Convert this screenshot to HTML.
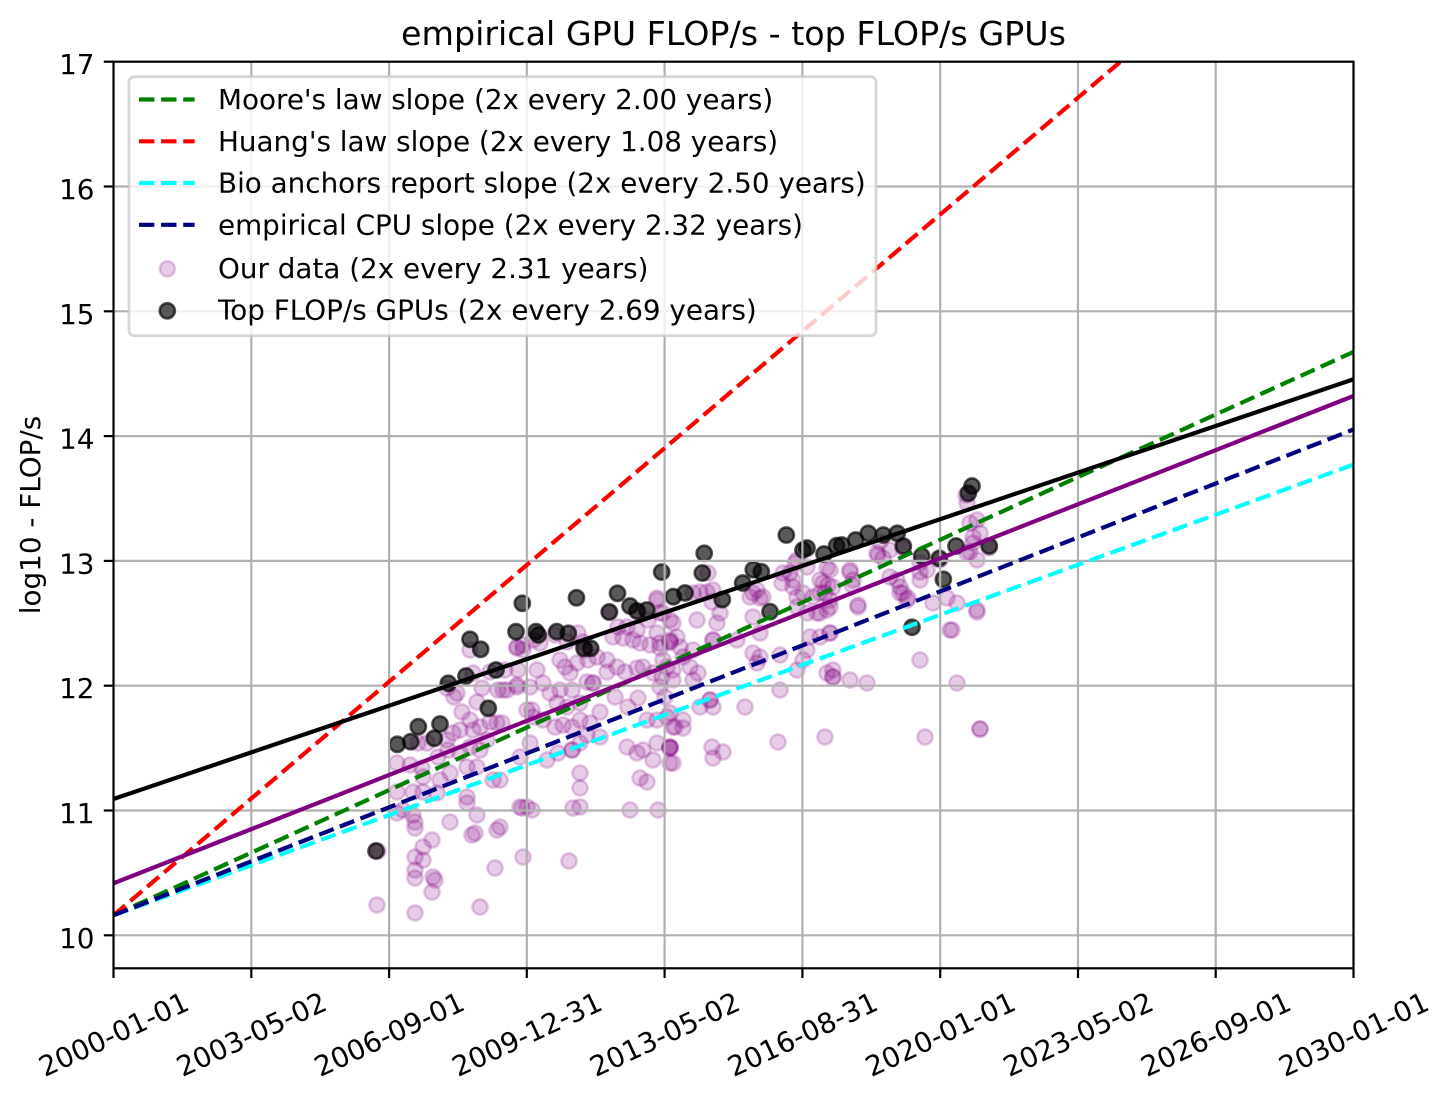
<!DOCTYPE html>
<html><head><meta charset="utf-8"><style>
html,body{margin:0;padding:0;background:#fff;}
svg{display:block;font-family:"DejaVu Sans","Liberation Sans",sans-serif;}
</style></head><body>
<svg width="1452" height="1101" viewBox="0 0 1452 1101" xmlns="http://www.w3.org/2000/svg">
<rect x="0" y="0" width="1452" height="1101" fill="#fff"/>
<defs><clipPath id="c"><rect x="113.5" y="61.7" width="1240" height="906.6"/></clipPath></defs>
<g clip-path="url(#c)">
<!-- purple scatter -->
<g fill="#800080" fill-opacity="0.2" stroke="#800080" stroke-opacity="0.2" stroke-width="2.6">
<circle cx="657" cy="598" r="7.6"/><circle cx="663" cy="613" r="7.6"/><circle cx="648" cy="620" r="7.6"/><circle cx="637" cy="630" r="7.6"/><circle cx="657" cy="633" r="7.6"/><circle cx="673" cy="623" r="7.6"/><circle cx="627" cy="627" r="7.6"/><circle cx="618" cy="627" r="7.6"/><circle cx="613" cy="637" r="7.6"/><circle cx="623" cy="638" r="7.6"/><circle cx="633" cy="640" r="7.6"/><circle cx="640" cy="643" r="7.6"/><circle cx="650" cy="645" r="7.6"/><circle cx="660" cy="648" r="7.6"/><circle cx="670" cy="642" r="7.6"/><circle cx="670" cy="642" r="7.6"/><circle cx="677" cy="637" r="7.6"/><circle cx="578" cy="633" r="7.6"/><circle cx="567" cy="642" r="7.6"/><circle cx="583" cy="642" r="7.6"/><circle cx="540" cy="643" r="7.6"/><circle cx="533" cy="640" r="7.6"/><circle cx="517" cy="647" r="7.6"/><circle cx="523" cy="650" r="7.6"/><circle cx="537" cy="670" r="7.6"/><circle cx="560" cy="660" r="7.6"/><circle cx="565" cy="667" r="7.6"/><circle cx="570" cy="673" r="7.6"/><circle cx="577" cy="663" r="7.6"/><circle cx="588" cy="660" r="7.6"/><circle cx="597" cy="657" r="7.6"/><circle cx="607" cy="660" r="7.6"/><circle cx="617" cy="667" r="7.6"/><circle cx="625" cy="672" r="7.6"/><circle cx="637" cy="668" r="7.6"/><circle cx="643" cy="667" r="7.6"/><circle cx="653" cy="673" r="7.6"/><circle cx="662" cy="677" r="7.6"/><circle cx="667" cy="667" r="7.6"/><circle cx="673" cy="670" r="7.6"/><circle cx="505" cy="670" r="7.6"/><circle cx="517" cy="687" r="7.6"/><circle cx="503" cy="690" r="7.6"/><circle cx="530" cy="687" r="7.6"/><circle cx="543" cy="683" r="7.6"/><circle cx="550" cy="693" r="7.6"/><circle cx="560" cy="690" r="7.6"/><circle cx="572" cy="690" r="7.6"/><circle cx="587" cy="682" r="7.6"/><circle cx="593" cy="683" r="7.6"/><circle cx="593" cy="683" r="7.6"/><circle cx="607" cy="672" r="7.6"/><circle cx="580" cy="703" r="7.6"/><circle cx="557" cy="703" r="7.6"/><circle cx="567" cy="707" r="7.6"/><circle cx="532" cy="710" r="7.6"/><circle cx="533" cy="717" r="7.6"/><circle cx="543" cy="720" r="7.6"/><circle cx="555" cy="727" r="7.6"/><circle cx="563" cy="725" r="7.6"/><circle cx="572" cy="727" r="7.6"/><circle cx="580" cy="720" r="7.6"/><circle cx="590" cy="723" r="7.6"/><circle cx="600" cy="712" r="7.6"/><circle cx="615" cy="697" r="7.6"/><circle cx="628" cy="707" r="7.6"/><circle cx="638" cy="698" r="7.6"/><circle cx="647" cy="720" r="7.6"/><circle cx="657" cy="720" r="7.6"/><circle cx="667" cy="717" r="7.6"/><circle cx="673" cy="727" r="7.6"/><circle cx="502" cy="723" r="7.6"/><circle cx="530" cy="743" r="7.6"/><circle cx="547" cy="760" r="7.6"/><circle cx="558" cy="753" r="7.6"/><circle cx="572" cy="750" r="7.6"/><circle cx="572" cy="750" r="7.6"/><circle cx="580" cy="743" r="7.6"/><circle cx="587" cy="735" r="7.6"/><circle cx="600" cy="737" r="7.6"/><circle cx="627" cy="747" r="7.6"/><circle cx="637" cy="753" r="7.6"/><circle cx="643" cy="750" r="7.6"/><circle cx="657" cy="743" r="7.6"/><circle cx="670" cy="748" r="7.6"/><circle cx="670" cy="748" r="7.6"/><circle cx="673" cy="763" r="7.6"/><circle cx="653" cy="760" r="7.6"/><circle cx="580" cy="773" r="7.6"/><circle cx="580" cy="788" r="7.6"/><circle cx="640" cy="778" r="7.6"/><circle cx="647" cy="782" r="7.6"/><circle cx="522" cy="808" r="7.6"/><circle cx="532" cy="810" r="7.6"/><circle cx="573" cy="808" r="7.6"/><circle cx="580" cy="807" r="7.6"/><circle cx="630" cy="810" r="7.6"/><circle cx="658" cy="810" r="7.6"/><circle cx="500" cy="827" r="7.6"/><circle cx="569" cy="861" r="7.6"/>
<circle cx="517" cy="648" r="7.6"/><circle cx="523" cy="645" r="7.6"/><circle cx="518" cy="670" r="7.6"/><circle cx="482" cy="688" r="7.6"/><circle cx="498" cy="690" r="7.6"/><circle cx="507" cy="690" r="7.6"/><circle cx="517" cy="685" r="7.6"/><circle cx="473" cy="673" r="7.6"/><circle cx="457" cy="693" r="7.6"/><circle cx="454" cy="697" r="7.6"/><circle cx="477" cy="702" r="7.6"/><circle cx="462" cy="712" r="7.6"/><circle cx="470" cy="720" r="7.6"/><circle cx="480" cy="727" r="7.6"/><circle cx="490" cy="722" r="7.6"/><circle cx="497" cy="723" r="7.6"/><circle cx="453" cy="733" r="7.6"/><circle cx="460" cy="730" r="7.6"/><circle cx="473" cy="730" r="7.6"/><circle cx="447" cy="740" r="7.6"/><circle cx="427" cy="743" r="7.6"/><circle cx="418" cy="743" r="7.6"/><circle cx="487" cy="740" r="7.6"/><circle cx="527" cy="710" r="7.6"/><circle cx="397" cy="763" r="7.6"/><circle cx="410" cy="765" r="7.6"/><circle cx="438" cy="757" r="7.6"/><circle cx="448" cy="750" r="7.6"/><circle cx="460" cy="753" r="7.6"/><circle cx="470" cy="747" r="7.6"/><circle cx="480" cy="750" r="7.6"/><circle cx="467" cy="767" r="7.6"/><circle cx="477" cy="767" r="7.6"/><circle cx="450" cy="773" r="7.6"/><circle cx="440" cy="780" r="7.6"/><circle cx="423" cy="777" r="7.6"/><circle cx="422" cy="768" r="7.6"/><circle cx="493" cy="780" r="7.6"/><circle cx="500" cy="780" r="7.6"/><circle cx="520" cy="757" r="7.6"/><circle cx="397" cy="792" r="7.6"/><circle cx="413" cy="792" r="7.6"/><circle cx="423" cy="792" r="7.6"/><circle cx="437" cy="793" r="7.6"/><circle cx="467" cy="797" r="7.6"/><circle cx="467" cy="803" r="7.6"/><circle cx="520" cy="807" r="7.6"/><circle cx="527" cy="807" r="7.6"/><circle cx="397" cy="813" r="7.6"/><circle cx="403" cy="810" r="7.6"/><circle cx="413" cy="815" r="7.6"/><circle cx="415" cy="822" r="7.6"/><circle cx="415" cy="828" r="7.6"/><circle cx="450" cy="822" r="7.6"/><circle cx="477" cy="815" r="7.6"/><circle cx="472" cy="835" r="7.6"/><circle cx="475" cy="833" r="7.6"/><circle cx="497" cy="830" r="7.6"/><circle cx="423" cy="847" r="7.6"/><circle cx="432" cy="840" r="7.6"/><circle cx="415" cy="857" r="7.6"/><circle cx="423" cy="860" r="7.6"/><circle cx="415" cy="870" r="7.6"/><circle cx="415" cy="878" r="7.6"/><circle cx="433" cy="877" r="7.6"/><circle cx="435" cy="880" r="7.6"/><circle cx="432" cy="892" r="7.6"/><circle cx="495" cy="868" r="7.6"/><circle cx="523" cy="857" r="7.6"/><circle cx="377" cy="905" r="7.6"/><circle cx="415" cy="913" r="7.6"/><circle cx="480" cy="907" r="7.6"/><circle cx="378" cy="851" r="7.6"/>
<circle cx="660" cy="613" r="7.6"/><circle cx="670" cy="620" r="7.6"/><circle cx="697" cy="620" r="7.6"/><circle cx="717" cy="623" r="7.6"/><circle cx="720" cy="613" r="7.6"/><circle cx="712" cy="602" r="7.6"/><circle cx="707" cy="592" r="7.6"/><circle cx="693" cy="593" r="7.6"/><circle cx="737" cy="640" r="7.6"/><circle cx="760" cy="633" r="7.6"/><circle cx="753" cy="617" r="7.6"/><circle cx="750" cy="597" r="7.6"/><circle cx="757" cy="590" r="7.6"/><circle cx="760" cy="598" r="7.6"/><circle cx="670" cy="640" r="7.6"/><circle cx="713" cy="640" r="7.6"/><circle cx="713" cy="640" r="7.6"/><circle cx="660" cy="643" r="7.6"/><circle cx="680" cy="647" r="7.6"/><circle cx="693" cy="650" r="7.6"/><circle cx="683" cy="657" r="7.6"/><circle cx="663" cy="660" r="7.6"/><circle cx="690" cy="667" r="7.6"/><circle cx="698" cy="673" r="7.6"/><circle cx="693" cy="680" r="7.6"/><circle cx="673" cy="680" r="7.6"/><circle cx="660" cy="687" r="7.6"/><circle cx="665" cy="697" r="7.6"/><circle cx="710" cy="700" r="7.6"/><circle cx="710" cy="700" r="7.6"/><circle cx="713" cy="707" r="7.6"/><circle cx="700" cy="707" r="7.6"/><circle cx="745" cy="707" r="7.6"/><circle cx="670" cy="713" r="7.6"/><circle cx="683" cy="720" r="7.6"/><circle cx="675" cy="727" r="7.6"/><circle cx="683" cy="728" r="7.6"/><circle cx="670" cy="747" r="7.6"/><circle cx="670" cy="747" r="7.6"/><circle cx="670" cy="763" r="7.6"/><circle cx="712" cy="747" r="7.6"/><circle cx="713" cy="758" r="7.6"/><circle cx="723" cy="752" r="7.6"/><circle cx="778" cy="742" r="7.6"/><circle cx="825" cy="737" r="7.6"/><circle cx="925" cy="737" r="7.6"/><circle cx="980" cy="729" r="7.6"/><circle cx="980" cy="729" r="7.6"/><circle cx="753" cy="653" r="7.6"/><circle cx="760" cy="657" r="7.6"/><circle cx="757" cy="663" r="7.6"/><circle cx="780" cy="655" r="7.6"/><circle cx="780" cy="690" r="7.6"/><circle cx="797" cy="670" r="7.6"/><circle cx="807" cy="650" r="7.6"/><circle cx="803" cy="660" r="7.6"/><circle cx="810" cy="637" r="7.6"/><circle cx="820" cy="637" r="7.6"/><circle cx="830" cy="633" r="7.6"/><circle cx="827" cy="673" r="7.6"/><circle cx="833" cy="677" r="7.6"/><circle cx="833" cy="677" r="7.6"/><circle cx="850" cy="680" r="7.6"/><circle cx="867" cy="683" r="7.6"/><circle cx="858" cy="607" r="7.6"/><circle cx="827" cy="610" r="7.6"/><circle cx="817" cy="613" r="7.6"/><circle cx="807" cy="613" r="7.6"/><circle cx="797" cy="607" r="7.6"/><circle cx="813" cy="597" r="7.6"/><circle cx="803" cy="593" r="7.6"/><circle cx="820" cy="593" r="7.6"/><circle cx="830" cy="600" r="7.6"/><circle cx="793" cy="580" r="7.6"/><circle cx="783" cy="573" r="7.6"/><circle cx="797" cy="560" r="7.6"/><circle cx="807" cy="567" r="7.6"/><circle cx="827" cy="568" r="7.6"/><circle cx="850" cy="570" r="7.6"/><circle cx="853" cy="580" r="7.6"/><circle cx="823" cy="583" r="7.6"/><circle cx="833" cy="587" r="7.6"/><circle cx="920" cy="660" r="7.6"/><circle cx="957" cy="683" r="7.6"/><circle cx="950" cy="630" r="7.6"/><circle cx="977" cy="612" r="7.6"/><circle cx="957" cy="603" r="7.6"/><circle cx="890" cy="577" r="7.6"/><circle cx="900" cy="593" r="7.6"/><circle cx="907" cy="600" r="7.6"/><circle cx="877" cy="553" r="7.6"/><circle cx="970" cy="523" r="7.6"/><circle cx="973" cy="537" r="7.6"/><circle cx="977" cy="560" r="7.6"/><circle cx="967" cy="553" r="7.6"/>
<circle cx="967" cy="503" r="7.6"/><circle cx="977" cy="520" r="7.6"/><circle cx="980" cy="533" r="7.6"/><circle cx="973" cy="543" r="7.6"/><circle cx="970" cy="552" r="7.6"/><circle cx="880" cy="542" r="7.6"/><circle cx="883" cy="558" r="7.6"/><circle cx="878" cy="555" r="7.6"/><circle cx="890" cy="550" r="7.6"/><circle cx="920" cy="563" r="7.6"/><circle cx="920" cy="572" r="7.6"/><circle cx="920" cy="580" r="7.6"/><circle cx="927" cy="570" r="7.6"/><circle cx="897" cy="580" r="7.6"/><circle cx="900" cy="587" r="7.6"/><circle cx="903" cy="593" r="7.6"/><circle cx="908" cy="598" r="7.6"/><circle cx="830" cy="570" r="7.6"/><circle cx="820" cy="580" r="7.6"/><circle cx="828" cy="585" r="7.6"/><circle cx="825" cy="593" r="7.6"/><circle cx="830" cy="607" r="7.6"/><circle cx="820" cy="613" r="7.6"/><circle cx="850" cy="572" r="7.6"/><circle cx="852" cy="585" r="7.6"/><circle cx="858" cy="605" r="7.6"/><circle cx="933" cy="603" r="7.6"/><circle cx="947" cy="598" r="7.6"/><circle cx="977" cy="610" r="7.6"/><circle cx="952" cy="630" r="7.6"/><circle cx="830" cy="633" r="7.6"/><circle cx="833" cy="670" r="7.6"/>
<circle cx="657" cy="600" r="7.6"/><circle cx="708" cy="573" r="7.6"/><circle cx="713" cy="590" r="7.6"/><circle cx="700" cy="592" r="7.6"/><circle cx="753" cy="593" r="7.6"/><circle cx="763" cy="597" r="7.6"/><circle cx="782" cy="583" r="7.6"/><circle cx="790" cy="573" r="7.6"/><circle cx="795" cy="563" r="7.6"/><circle cx="793" cy="587" r="7.6"/><circle cx="797" cy="597" r="7.6"/>
<circle cx="470" cy="650" r="7.6"/><circle cx="490" cy="672" r="7.6"/><circle cx="447" cy="688" r="7.6"/><circle cx="610" cy="612" r="7.6"/><circle cx="638" cy="612" r="7.6"/><circle cx="585" cy="650" r="7.6"/><circle cx="555" cy="635" r="7.6"/><circle cx="903" cy="548" r="7.6"/><circle cx="940" cy="560" r="7.6"/><circle cx="966" cy="495" r="7.6"/><circle cx="989" cy="548" r="7.6"/>
</g>
<!-- black scatter -->
<g fill="#000" fill-opacity="0.65" stroke="#000" stroke-opacity="0.65" stroke-width="2.6">
<circle cx="376" cy="851" r="7.6"/><circle cx="397.3" cy="744.3" r="7.6"/><circle cx="410.7" cy="741.7" r="7.6"/><circle cx="418.3" cy="726.7" r="7.6"/><circle cx="434.3" cy="738.3" r="7.6"/><circle cx="440" cy="724" r="7.6"/><circle cx="448.3" cy="683.3" r="7.6"/><circle cx="466" cy="676" r="7.6"/><circle cx="470" cy="639.3" r="7.6"/><circle cx="480.7" cy="649.3" r="7.6"/><circle cx="488.3" cy="708.3" r="7.6"/><circle cx="496" cy="670" r="7.6"/><circle cx="516" cy="631.7" r="7.6"/><circle cx="522.3" cy="603.3" r="7.6"/><circle cx="536" cy="631.7" r="7.6"/><circle cx="538.3" cy="635" r="7.6"/><circle cx="556.7" cy="631.7" r="7.6"/><circle cx="568.3" cy="633.3" r="7.6"/><circle cx="576.5" cy="597.8" r="7.6"/><circle cx="584" cy="648.3" r="7.6"/><circle cx="590.7" cy="648.3" r="7.6"/><circle cx="609.2" cy="612" r="7.6"/><circle cx="617.5" cy="593.3" r="7.6"/><circle cx="630" cy="606" r="7.6"/><circle cx="637" cy="611" r="7.6"/><circle cx="646.8" cy="610" r="7.6"/><circle cx="661.7" cy="572" r="7.6"/><circle cx="673.3" cy="596.7" r="7.6"/><circle cx="685" cy="593" r="7.6"/><circle cx="702.3" cy="573" r="7.6"/><circle cx="704.2" cy="553.3" r="7.6"/><circle cx="722.3" cy="599.6" r="7.6"/><circle cx="742.7" cy="583" r="7.6"/><circle cx="753.3" cy="569.7" r="7.6"/><circle cx="761.3" cy="571.7" r="7.6"/><circle cx="770" cy="611.7" r="7.6"/><circle cx="786.3" cy="535" r="7.6"/><circle cx="803" cy="550" r="7.6"/><circle cx="807" cy="548" r="7.6"/><circle cx="824" cy="554" r="7.6"/><circle cx="836.7" cy="545.7" r="7.6"/><circle cx="841.7" cy="545" r="7.6"/><circle cx="855.7" cy="540" r="7.6"/><circle cx="868.3" cy="533.3" r="7.6"/><circle cx="883.3" cy="535" r="7.6"/><circle cx="897.3" cy="533.3" r="7.6"/><circle cx="903.3" cy="546" r="7.6"/><circle cx="912" cy="627.3" r="7.6"/><circle cx="921.7" cy="556" r="7.6"/><circle cx="939.3" cy="558.3" r="7.6"/><circle cx="943.3" cy="579.3" r="7.6"/><circle cx="956" cy="546" r="7.6"/><circle cx="968.3" cy="493.3" r="7.6"/><circle cx="972" cy="486" r="7.6"/><circle cx="989.3" cy="546" r="7.6"/>
</g>
<!-- grid -->
<g stroke="#b0b0b0" stroke-width="2.2">
<line x1="113.5" y1="61.7" x2="113.5" y2="968.3"/><line x1="251.3" y1="61.7" x2="251.3" y2="968.3"/><line x1="389.1" y1="61.7" x2="389.1" y2="968.3"/><line x1="526.8" y1="61.7" x2="526.8" y2="968.3"/><line x1="664.6" y1="61.7" x2="664.6" y2="968.3"/><line x1="802.4" y1="61.7" x2="802.4" y2="968.3"/><line x1="940.2" y1="61.7" x2="940.2" y2="968.3"/><line x1="1078" y1="61.7" x2="1078" y2="968.3"/><line x1="1215.7" y1="61.7" x2="1215.7" y2="968.3"/>
<line x1="113.5" y1="935.3" x2="1353.5" y2="935.3"/><line x1="113.5" y1="810.5" x2="1353.5" y2="810.5"/><line x1="113.5" y1="685.7" x2="1353.5" y2="685.7"/><line x1="113.5" y1="560.9" x2="1353.5" y2="560.9"/><line x1="113.5" y1="436.1" x2="1353.5" y2="436.1"/><line x1="113.5" y1="311.3" x2="1353.5" y2="311.3"/><line x1="113.5" y1="186.5" x2="1353.5" y2="186.5"/>
</g>
<!-- lines -->
<g fill="none" stroke-width="4.2">
<line x1="113.5" y1="915.3" x2="1353.5" y2="351.9" stroke="#008000" stroke-dasharray="15.4 6.7"/>
<line x1="113.5" y1="915.3" x2="1120.5" y2="61.7" stroke="#ff0000" stroke-dasharray="15.4 6.7"/>
<line x1="113.5" y1="915.3" x2="1353.5" y2="464.6" stroke="#00ffff" stroke-dasharray="15.4 6.7"/>
<line x1="113.5" y1="915.3" x2="1353.5" y2="429.5" stroke="#000080" stroke-dasharray="15.4 6.7"/>
<line x1="113.5" y1="883.3" x2="1353.5" y2="396" stroke="#800080"/>
<line x1="113.5" y1="799" x2="1353.5" y2="379.3" stroke="#000"/>
</g>
</g>
<!-- spines -->
<rect x="113.5" y="61.7" width="1240" height="906.6" fill="none" stroke="#000" stroke-width="2.2"/>
<!-- ticks -->
<g stroke="#000" stroke-width="2.2">
<line x1="113.5" y1="968.3" x2="113.5" y2="978"/><line x1="251.3" y1="968.3" x2="251.3" y2="978"/><line x1="389.1" y1="968.3" x2="389.1" y2="978"/><line x1="526.8" y1="968.3" x2="526.8" y2="978"/><line x1="664.6" y1="968.3" x2="664.6" y2="978"/><line x1="802.4" y1="968.3" x2="802.4" y2="978"/><line x1="940.2" y1="968.3" x2="940.2" y2="978"/><line x1="1078" y1="968.3" x2="1078" y2="978"/><line x1="1215.7" y1="968.3" x2="1215.7" y2="978"/><line x1="1353.5" y1="968.3" x2="1353.5" y2="978"/>
<line x1="103.8" y1="935.3" x2="113.5" y2="935.3"/><line x1="103.8" y1="810.5" x2="113.5" y2="810.5"/><line x1="103.8" y1="685.7" x2="113.5" y2="685.7"/><line x1="103.8" y1="560.9" x2="113.5" y2="560.9"/><line x1="103.8" y1="436.1" x2="113.5" y2="436.1"/><line x1="103.8" y1="311.3" x2="113.5" y2="311.3"/><line x1="103.8" y1="186.5" x2="113.5" y2="186.5"/><line x1="103.8" y1="61.7" x2="113.5" y2="61.7"/>
</g>
<!-- y tick labels -->
<g font-size="27.8" text-anchor="end" fill="#000">
<text x="94.5" y="947.8">10</text><text x="94.5" y="823">11</text><text x="94.5" y="698.2">12</text><text x="94.5" y="573.4">13</text><text x="94.5" y="448.6">14</text><text x="94.5" y="323.8">15</text><text x="94.5" y="199">16</text><text x="94.5" y="74.2">17</text>
</g>
<!-- x tick labels -->
<g font-size="27.8" text-anchor="middle" fill="#000">
<text transform="translate(113.5,1034) rotate(-25)" y="10.1">2000-01-01</text>
<text transform="translate(251.3,1034) rotate(-25)" y="10.1">2003-05-02</text>
<text transform="translate(389.1,1034) rotate(-25)" y="10.1">2006-09-01</text>
<text transform="translate(526.8,1034) rotate(-25)" y="10.1">2009-12-31</text>
<text transform="translate(664.6,1034) rotate(-25)" y="10.1">2013-05-02</text>
<text transform="translate(802.4,1034) rotate(-25)" y="10.1">2016-08-31</text>
<text transform="translate(940.2,1034) rotate(-25)" y="10.1">2020-01-01</text>
<text transform="translate(1078,1034) rotate(-25)" y="10.1">2023-05-02</text>
<text transform="translate(1215.7,1034) rotate(-25)" y="10.1">2026-09-01</text>
<text transform="translate(1353.5,1034) rotate(-25)" y="10.1">2030-01-01</text>
</g>
<!-- axis label & title -->
<text transform="translate(40,515) rotate(-90)" font-size="27.8" text-anchor="middle" fill="#000">log10 - FLOP/s</text>
<text x="733.5" y="45" font-size="33.3" text-anchor="middle" fill="#000">empirical GPU FLOP/s - top FLOP/s GPUs</text>
<!-- legend -->
<rect x="129" y="76.7" width="747" height="259" rx="5.5" ry="5.5" fill="#fff" fill-opacity="0.8" stroke="#cccccc" stroke-opacity="0.8" stroke-width="2.78"/>
<g stroke-width="4.2" stroke-dasharray="15.4 6.7">
<line x1="139" y1="99.5" x2="194.6" y2="99.5" stroke="#008000"/>
<line x1="139" y1="141.3" x2="194.6" y2="141.3" stroke="#ff0000"/>
<line x1="139" y1="183" x2="194.6" y2="183" stroke="#00ffff"/>
<line x1="139" y1="224.8" x2="194.6" y2="224.8" stroke="#000080"/>
</g>
<circle cx="167.3" cy="268.8" r="7.6" fill="#800080" fill-opacity="0.2" stroke="#800080" stroke-opacity="0.2" stroke-width="2.6"/>
<circle cx="167.3" cy="310.8" r="7.6" fill="#000" fill-opacity="0.65" stroke="#000" stroke-opacity="0.65" stroke-width="2.6"/>
<g font-size="27.8" fill="#000">
<text x="218" y="109">Moore's law slope (2x every 2.00 years)</text>
<text x="218" y="150.8">Huang's law slope (2x every 1.08 years)</text>
<text x="218" y="192.6">Bio anchors report slope (2x every 2.50 years)</text>
<text x="218" y="234.4">empirical CPU slope (2x every 2.32 years)</text>
<text x="218" y="277.8">Our data (2x every 2.31 years)</text>
<text x="218" y="319.6">Top FLOP/s GPUs (2x every 2.69 years)</text>
</g>
</svg>
</body></html>
